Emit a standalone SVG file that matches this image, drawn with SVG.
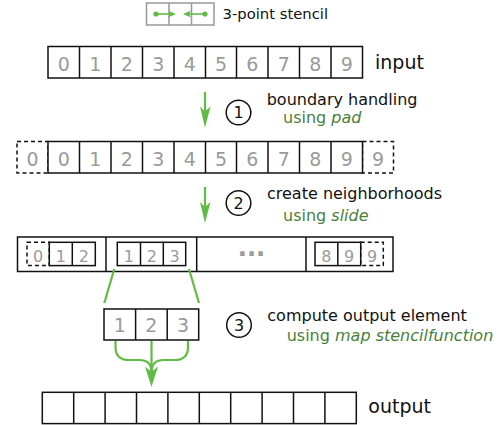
<svg xmlns="http://www.w3.org/2000/svg" width="500" height="425" viewBox="0 0 500 425">
<defs>
<style>
.cell{fill:#fff;stroke:#111;stroke-width:1.5}
.dash{fill:#fff;stroke:#111;stroke-width:1.5;stroke-dasharray:4,3}
.d{font-family:"DejaVu Sans",sans-serif;font-size:19px;fill:#9a9a9a;text-anchor:middle}
.ds{font-family:"DejaVu Sans",sans-serif;font-size:16px;fill:#9a9a9a;text-anchor:middle}
.lbl{font-family:"DejaVu Sans",sans-serif;font-size:16px;fill:#111}
.big{font-family:"DejaVu Sans",sans-serif;font-size:19px;fill:#111}
.use{font-family:"DejaVu Sans",sans-serif;font-size:16px;fill:#4b803c}
.circ{fill:#fff;stroke:#111;stroke-width:1.5}
.cn{font-family:"DejaVu Sans",sans-serif;font-size:16px;fill:#111;text-anchor:middle}
.g{stroke:#62bb46;stroke-width:2.2;fill:none}
.gh{fill:#62bb46}
</style>
</defs>

<g id="legend">
<rect x="146.5" y="3" width="67.5" height="22" fill="#fff" stroke="#999" stroke-width="1.5"/>
<line x1="169" y1="3" x2="169" y2="25" stroke="#999" stroke-width="1.5"/>
<line x1="191.5" y1="3" x2="191.5" y2="25" stroke="#999" stroke-width="1.5"/>
<circle cx="156" cy="14" r="2.6" class="gh"/>
<line x1="156" y1="14" x2="170" y2="14" stroke="#62bb46" stroke-width="1.6"/>
<polygon points="176,14 168,10.5 170,14 168,17.5" class="gh"/>
<circle cx="205" cy="14" r="2.6" class="gh"/>
<line x1="205" y1="14" x2="189" y2="14" stroke="#62bb46" stroke-width="1.6"/>
<polygon points="183,14 191,10.5 189,14 191,17.5" class="gh"/>
<text x="222.5" y="18.5" font-family="DejaVu Sans, sans-serif" font-size="14.8" fill="#111">3-point stencil</text>
</g>

<g id="input">
<rect x="48" y="46.5" width="314.5" height="31.5" class="cell"/>
<line x1="79.5" y1="46.5" x2="79.5" y2="78" class="cell"/>
<line x1="111" y1="46.5" x2="111" y2="78" class="cell"/>
<line x1="142.5" y1="46.5" x2="142.5" y2="78" class="cell"/>
<line x1="174" y1="46.5" x2="174" y2="78" class="cell"/>
<line x1="205.5" y1="46.5" x2="205.5" y2="78" class="cell"/>
<line x1="236.5" y1="46.5" x2="236.5" y2="78" class="cell"/>
<line x1="268" y1="46.5" x2="268" y2="78" class="cell"/>
<line x1="299.5" y1="46.5" x2="299.5" y2="78" class="cell"/>
<line x1="331" y1="46.5" x2="331" y2="78" class="cell"/>
<text class="d" x="63.7" y="70.5">0</text>
<text class="d" x="95.2" y="70.5">1</text>
<text class="d" x="126.7" y="70.5">2</text>
<text class="d" x="158.2" y="70.5">3</text>
<text class="d" x="189.7" y="70.5">4</text>
<text class="d" x="221" y="70.5">5</text>
<text class="d" x="252.2" y="70.5">6</text>
<text class="d" x="283.7" y="70.5">7</text>
<text class="d" x="315.2" y="70.5">8</text>
<text class="d" x="346.7" y="70.5">9</text>
<text class="big" x="375" y="68.5">input</text>
</g>

<g id="step1">
<circle cx="238.5" cy="112.5" r="12.3" class="circ"/>
<text class="cn" x="238.5" y="118.3">1</text>
<text class="lbl" x="266.7" y="105">boundary handling</text>
<text class="use" x="283" y="123.3">using <tspan font-style="italic">pad</tspan></text>
</g>

<g id="padded">
<rect x="17" y="141.5" width="31" height="31.5" class="dash"/>
<rect x="362.5" y="141.5" width="31" height="31.5" class="dash"/>
<rect x="48" y="141.5" width="314.5" height="31.5" class="cell"/>
<line x1="79.5" y1="141.5" x2="79.5" y2="173" class="cell"/>
<line x1="111" y1="141.5" x2="111" y2="173" class="cell"/>
<line x1="142.5" y1="141.5" x2="142.5" y2="173" class="cell"/>
<line x1="174" y1="141.5" x2="174" y2="173" class="cell"/>
<line x1="205.5" y1="141.5" x2="205.5" y2="173" class="cell"/>
<line x1="236.5" y1="141.5" x2="236.5" y2="173" class="cell"/>
<line x1="268" y1="141.5" x2="268" y2="173" class="cell"/>
<line x1="299.5" y1="141.5" x2="299.5" y2="173" class="cell"/>
<line x1="331" y1="141.5" x2="331" y2="173" class="cell"/>
<text class="d" x="32.5" y="165.7">0</text>
<text class="d" x="63.7" y="165.7">0</text>
<text class="d" x="95.2" y="165.7">1</text>
<text class="d" x="126.7" y="165.7">2</text>
<text class="d" x="158.2" y="165.7">3</text>
<text class="d" x="189.7" y="165.7">4</text>
<text class="d" x="221" y="165.7">5</text>
<text class="d" x="252.2" y="165.7">6</text>
<text class="d" x="283.7" y="165.7">7</text>
<text class="d" x="315.2" y="165.7">8</text>
<text class="d" x="346.7" y="165.7">9</text>
<text class="d" x="378" y="165.7">9</text>
</g>

<g id="step2">
<circle cx="238.5" cy="203" r="12.3" class="circ"/>
<text class="cn" x="238.5" y="208.8">2</text>
<text class="lbl" x="267" y="199">create neighborhoods</text>
<text class="use" x="283" y="220.5">using <tspan font-style="italic">slide</tspan></text>
</g>

<g id="neighborhoods">
<rect x="17.5" y="237" width="375.5" height="34.5" class="cell"/>
<line x1="106" y1="237" x2="106" y2="271.5" class="cell"/>
<line x1="196.7" y1="237" x2="196.7" y2="271.5" class="cell"/>
<line x1="306" y1="237" x2="306" y2="271.5" class="cell"/>
<rect x="27" y="242.3" width="22.3" height="23.3" class="dash"/>
<rect x="49.3" y="242.3" width="46" height="23.3" class="cell"/>
<line x1="72.3" y1="242.3" x2="72.3" y2="265.6" class="cell"/>
<text class="ds" x="38.2" y="261.5">0</text>
<text class="ds" x="60.8" y="261.5">1</text>
<text class="ds" x="83.8" y="261.5">2</text>
<rect x="117.3" y="242.3" width="68.4" height="23.3" class="cell"/>
<line x1="140.5" y1="242.3" x2="140.5" y2="265.6" class="cell"/>
<line x1="163.3" y1="242.3" x2="163.3" y2="265.6" class="cell"/>
<text class="ds" x="128.9" y="261.5">1</text>
<text class="ds" x="151.9" y="261.5">2</text>
<text class="ds" x="174.5" y="261.5">3</text>
<text x="251.5" y="256" font-family="DejaVu Sans, sans-serif" font-size="24" font-weight="bold" fill="#9a9a9a" text-anchor="middle">...</text>
<rect x="360.7" y="242.3" width="22.6" height="23.3" class="dash"/>
<rect x="315" y="242.3" width="45.7" height="23.3" class="cell"/>
<line x1="337.8" y1="242.3" x2="337.8" y2="265.6" class="cell"/>
<text class="ds" x="326.4" y="261.5">8</text>
<text class="ds" x="349.2" y="261.5">9</text>
<text class="ds" x="372" y="261.5">9</text>
</g>

<g id="compute">
<rect x="104" y="309" width="94.7" height="31" class="cell"/>
<line x1="135.6" y1="309" x2="135.6" y2="340" class="cell"/>
<line x1="167.2" y1="309" x2="167.2" y2="340" class="cell"/>
<text class="d" x="119.8" y="332">1</text>
<text class="d" x="151.4" y="332">2</text>
<text class="d" x="183" y="332">3</text>
</g>

<g id="step3">
<circle cx="239" cy="325" r="12.3" class="circ"/>
<text class="cn" x="239" y="330.8">3</text>
<text class="lbl" x="267.3" y="320.7">compute output element</text>
<text class="use" x="286.7" y="340.7">using <tspan font-style="italic">map stencilfunction</tspan></text>
</g>

<g id="output">
<rect x="42.3" y="392.3" width="314" height="31.3" class="cell"/>
<line x1="73.7" y1="392.3" x2="73.7" y2="423.6" class="cell"/>
<line x1="105.1" y1="392.3" x2="105.1" y2="423.6" class="cell"/>
<line x1="136.5" y1="392.3" x2="136.5" y2="423.6" class="cell"/>
<line x1="167.9" y1="392.3" x2="167.9" y2="423.6" class="cell"/>
<line x1="199.3" y1="392.3" x2="199.3" y2="423.6" class="cell"/>
<line x1="230.7" y1="392.3" x2="230.7" y2="423.6" class="cell"/>
<line x1="262.1" y1="392.3" x2="262.1" y2="423.6" class="cell"/>
<line x1="293.5" y1="392.3" x2="293.5" y2="423.6" class="cell"/>
<line x1="324.9" y1="392.3" x2="324.9" y2="423.6" class="cell"/>
<text class="big" x="368.3" y="413.3">output</text>
</g>

<g id="connectors">
<line x1="205" y1="92" x2="205" y2="112" class="g"/>
<polygon points="205,127.7 200,106.5 205,111.5 210.5,106.5" class="gh"/>
<line x1="205" y1="187" x2="205" y2="207" class="g"/>
<polygon points="205,223 200,202 205,207 210.5,202" class="gh"/>
<line x1="114.3" y1="269" x2="104.3" y2="303" class="g"/>
<line x1="189" y1="269" x2="199" y2="303" class="g"/>
<path d="M115.5,341 V347 Q115.5,360 129,360 H139 Q151.5,360 151.5,372" class="g"/>
<path d="M188,341 V347 Q188,360 174.5,360 H164 Q151.5,360 151.5,372" class="g"/>
<line x1="151.5" y1="341" x2="151.5" y2="375" class="g"/>
<polygon points="151.5,387 145,366.5 151.5,372 158,366.5" class="gh"/>
</g>
</svg>
